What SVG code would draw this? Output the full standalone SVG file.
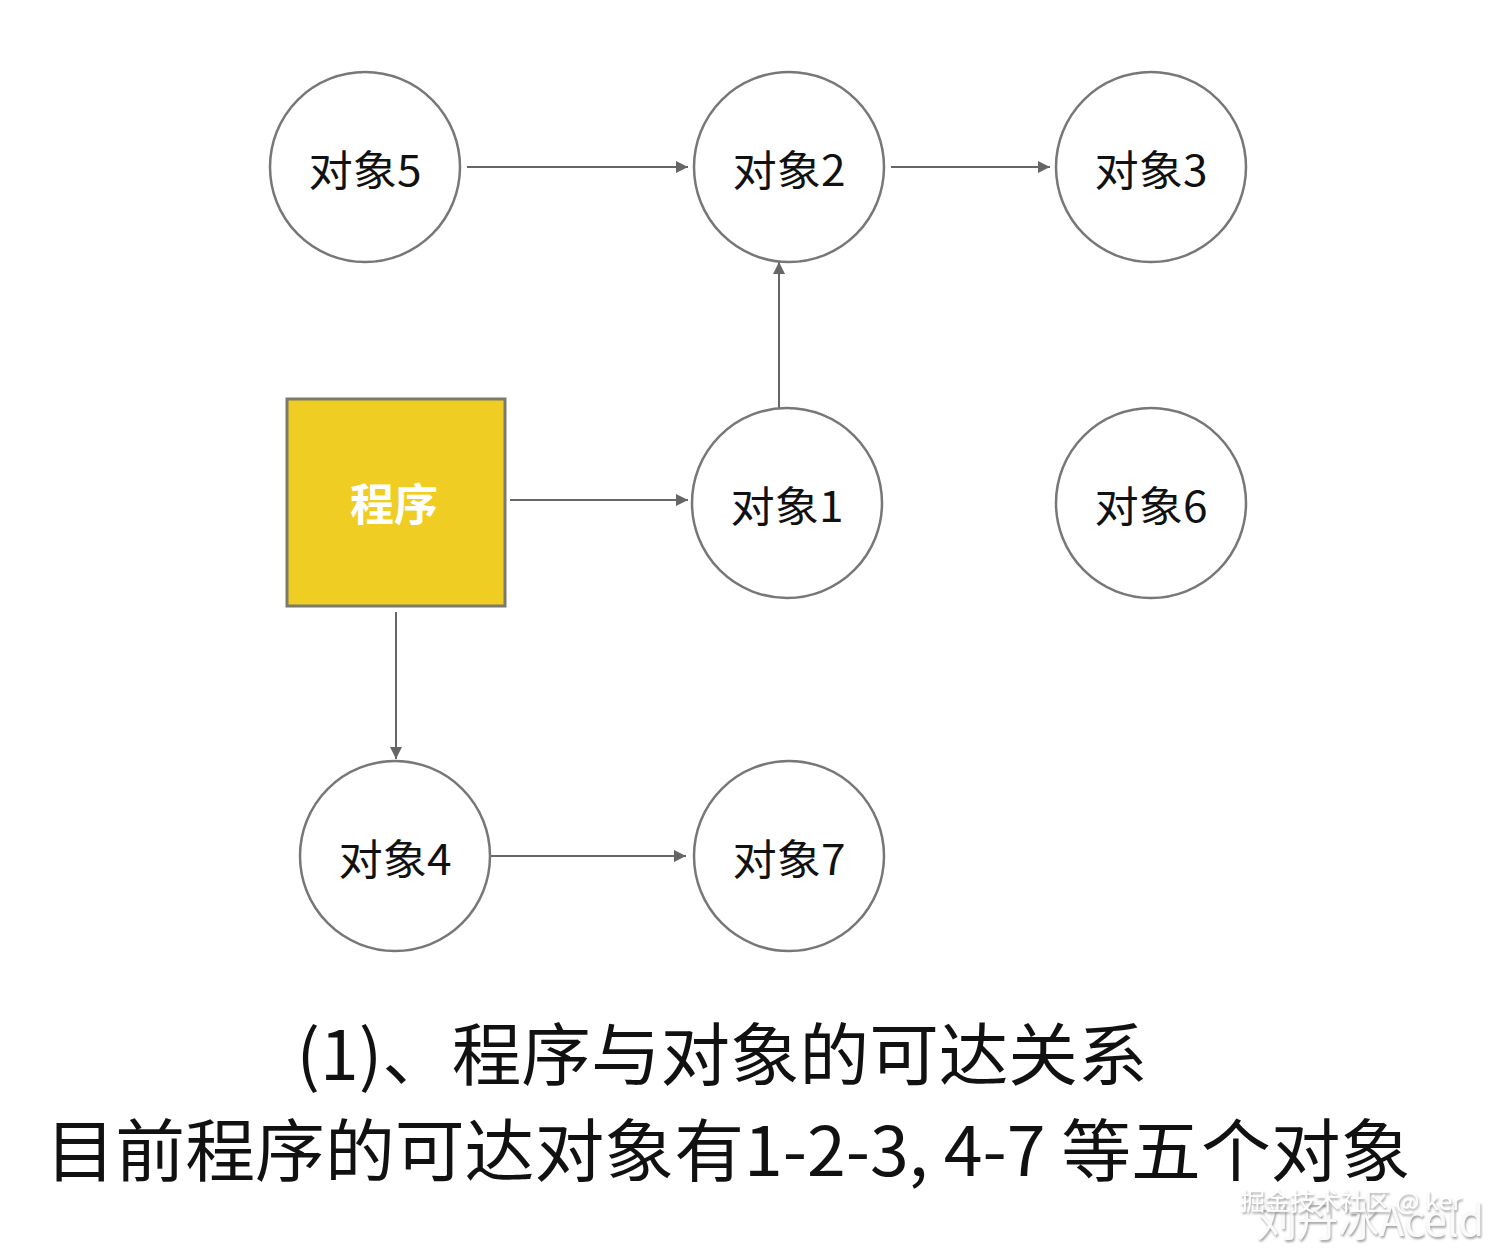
<svg xmlns="http://www.w3.org/2000/svg" width="1494" height="1248" viewBox="0 0 1494 1248">
<defs>
<marker id="ah" viewBox="0 0 10 10" refX="10" refY="5" markerWidth="12" markerHeight="12" markerUnits="userSpaceOnUse" orient="auto">
<path d="M0,0 L10,5 L0,10 z" fill="#666"/>
</marker>
<filter id="sh" x="-10%" y="-10%" width="120%" height="130%"><feDropShadow dx="1" dy="2" stdDeviation="1" flood-color="#888" flood-opacity="0.8"/></filter>
</defs>
<style>
.c{fill:#fff;stroke:#777;stroke-width:2.5}
.t{font-family:"Noto Sans CJK SC","Noto Sans",sans-serif;font-size:42px;fill:#111;text-anchor:middle;dominant-baseline:central}
.e{stroke:#666;stroke-width:2;fill:none;marker-end:url(#ah)}
.b{font-family:"Noto Sans CJK SC","Noto Sans",sans-serif;font-size:68px;fill:#111;text-anchor:middle}
.w{font-family:"Noto Sans CJK SC",sans-serif;fill:#fff;filter:url(#sh)}
</style>
<rect width="1494" height="1248" fill="#fff"/>
<g id="connectors">
<line class="e" x1="467" y1="167" x2="688" y2="167"/>
<line class="e" x1="891" y1="167" x2="1050" y2="167"/>
<line class="e" x1="779" y1="408" x2="779" y2="262"/>
<line class="e" x1="510" y1="500" x2="688" y2="500"/>
<line class="e" x1="396" y1="612" x2="396" y2="759"/>
<line class="e" x1="488" y1="856" x2="686" y2="856"/>
</g>
<g id="n5"><circle class="c" cx="365" cy="167" r="95"/><text class="t" x="365" y="167" textLength="113" lengthAdjust="spacingAndGlyphs">对象5</text></g>
<g id="n2"><circle class="c" cx="789" cy="167" r="95"/><text class="t" x="789" y="167" textLength="113" lengthAdjust="spacingAndGlyphs">对象2</text></g>
<g id="n3"><circle class="c" cx="1151" cy="167" r="95"/><text class="t" x="1151" y="167" textLength="113" lengthAdjust="spacingAndGlyphs">对象3</text></g>
<g id="prog"><rect x="287" y="399" width="218" height="207" fill="#f0cd22" stroke="#7a7a6e" stroke-width="3"/><text class="t" x="394" y="502" style="fill:#fff;font-weight:bold;font-size:44px">程序</text></g>
<g id="n1"><circle class="c" cx="787" cy="503" r="95"/><text class="t" x="787" y="503" textLength="113" lengthAdjust="spacingAndGlyphs">对象1</text></g>
<g id="n6"><circle class="c" cx="1151" cy="503" r="95"/><text class="t" x="1151" y="503" textLength="113" lengthAdjust="spacingAndGlyphs">对象6</text></g>
<g id="n4"><circle class="c" cx="395" cy="856" r="95"/><text class="t" x="395" y="856" textLength="113" lengthAdjust="spacingAndGlyphs">对象4</text></g>
<g id="n7"><circle class="c" cx="789" cy="856" r="95"/><text class="t" x="789" y="856" textLength="113" lengthAdjust="spacingAndGlyphs">对象7</text></g>
<g id="caption">
<text class="b" x="722" y="1080" textLength="851" lengthAdjust="spacingAndGlyphs">(1)、程序与对象的可达关系</text>
<text class="b" x="728" y="1176" textLength="1365" lengthAdjust="spacingAndGlyphs">目前程序的可达对象有1-2-3, 4-7 等五个对象</text>
</g>
<g id="watermark">
<text class="w" x="1256" y="1236" font-size="42" textLength="228" lengthAdjust="spacingAndGlyphs" style="fill:#fafafa">刘丹冰Aceld</text>
<text class="w" x="1240" y="1210" font-size="24" textLength="222" lengthAdjust="spacingAndGlyphs">掘金技术社区 @ ker</text>
</g>
</svg>
